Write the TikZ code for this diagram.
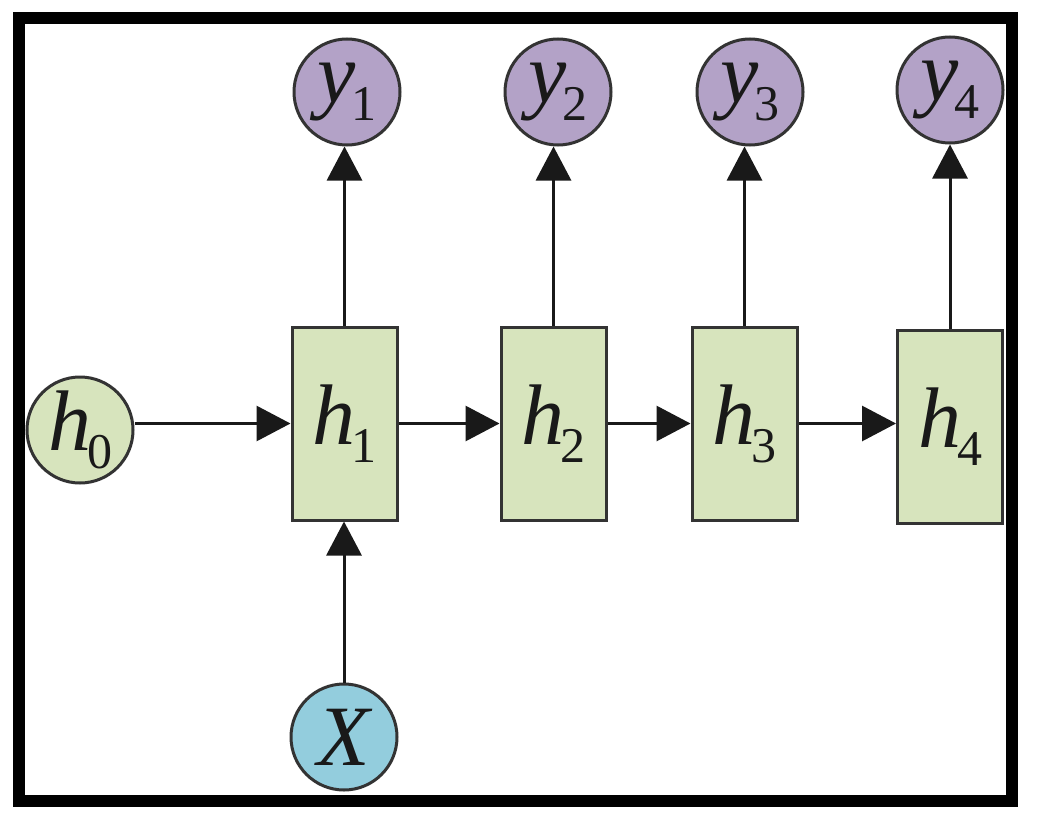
\documentclass[tikz,border=0pt]{standalone}
\usepackage{fontspec}
\setmainfont{Liberation Serif}
\usetikzlibrary{arrows.meta}
\definecolor{purp}{HTML}{B3A2C7}
\definecolor{grn}{HTML}{D7E4BD}
\definecolor{blu}{HTML}{93CDDD}
\definecolor{edge}{HTML}{333333}
\newcommand\lab[2]{\fontsize{86}{86}\selectfont\itshape #1\kern-4pt\raisebox{-18pt}{\fontsize{50}{50}\selectfont\upshape #2}}
\begin{document}
\begin{tikzpicture}[x=1pt,y=-1pt,
  cell/.style={draw=edge,line width=3pt,fill=grn,minimum width=105pt,minimum height=193pt,inner sep=0pt,text=black!90},
  outc/.style={circle,draw=edge,line width=3pt,fill=purp,minimum size=106pt,inner sep=0pt,text=black!90},
  inc/.style={circle,draw=edge,line width=3pt,minimum size=106pt,inner sep=0pt,text=black!90},
  arr/.style={line width=3pt,draw=black!90,-{Triangle[length=34pt,width=35pt]}}]
\useasboundingbox (0,0) rectangle (1040,824);
\fill[white] (0,0) rectangle (1040,824);
\node[cell] (h1) at (344.5,423.5) {\lab{h}{1}};
\node[cell] (h2) at (553.5,423.5) {\lab{h}{2}};
\node[cell] (h3) at (744.5,423.5) {\lab{h}{3}};
\node[cell] (h4) at (950,426.5) {\lab{h}{4}};
\node[outc] (y1) at (347,92) {\lab{y}{1}};
\node[outc] (y2) at (558,92) {\lab{y}{2}};
\node[outc] (y3) at (750,92) {\lab{y}{3}};
\node[outc] (y4) at (950,90) {\lab{y}{4}};
\node[inc,fill=grn] (h0) at (80,430) {\lab{h}{0}};
\node[inc,fill=blu] (x) at (344,737) {\fontsize{86}{86}\selectfont\itshape X};
\draw[arr] (h0.east |- h1.west) -- (h1.west);
\draw[arr] (h1.east) -- (h2.west);
\draw[arr] (h2.east) -- (h3.west);
\draw[arr] (h3.east) -- (h3.east -| h4.west);
\draw[arr] (x.north) -- (x.north |- h1.south);
\draw[arr] (h1.north) -- (h1.north |- y1.south);
\draw[arr] (h2.north) -- (h2.north |- y2.south);
\draw[arr] (h3.north) -- (h3.north |- y3.south);
\draw[arr] (h4.north) -- (h4.north |- y4.south);
\draw[line width=12pt] (19,18) rectangle (1012,801);
\end{tikzpicture}
\end{document}
